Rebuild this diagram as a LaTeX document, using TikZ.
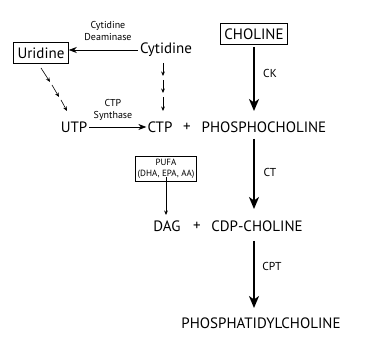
\documentclass[tikz,border=0pt]{standalone}
\usepackage{fontspec}
\setmainfont{PT Sans}
\usetikzlibrary{arrows.meta}
\begin{document}
\begin{tikzpicture}[x=1pt,y=-1pt,
  big/.style={font=\fontsize{15}{17}\selectfont, inner sep=0pt},
  small/.style={font=\fontsize{10}{11.5}\selectfont, align=center, inner sep=0pt},
  lab/.style={font=\fontsize{11.5}{13}\selectfont, inner sep=0pt},
  boxed/.style={draw, line width=0.7pt, inner xsep=4pt, inner ysep=5pt},
  thick arrow/.style={line width=2.2pt, -{Stealth[length=12pt,width=10pt,inset=3.5pt]}},
  thin arrow/.style={line width=0.8pt, -{Stealth[length=8pt,width=6pt,inset=2.5pt]}},
  tiny arrow/.style={line width=0.6pt, -{Stealth[length=4.5pt,width=3.8pt]}}]
\useasboundingbox (0,0) rectangle (376,339);
\node[big,boxed] (uri) at (41,53) {Uridine};
\node[big] (cyt) at (166,50) {Cytidine};
\node[small] (cdl) at (108,31) {Cytidine\\Deaminase};
\node[big,boxed] (cho) at (254,34) {CHOLINE};
\node[big] (utp) at (74,127) {UTP};
\node[big] (ctp) at (160,127) {CTP};
\node[big] (p1) at (187,127) {+};
\node[big] (pch) at (264,127) {PHOSPHOCHOLINE};
\node[small] (csl) at (113,110) {CTP\\Synthase};
\node[small,draw,line width=0.7pt,inner xsep=2pt,inner ysep=3pt,font=\fontsize{9}{11}\selectfont] (pufa) at (166,169) {PUFA\\(DHA, EPA, AA)};
\node[big] (dag) at (167,226) {DAG};
\node[big] (p2) at (197,226) {+};
\node[big] (cdp) at (257,226) {CDP-CHOLINE};
\node[big] (pc) at (261,323) {PHOSPHATIDYLCHOLINE};
\node[lab] (ck) at (270,73) {CK};
\node[lab] (ct) at (270,172) {CT};
\node[lab] (cpt) at (272,266) {CPT};
% main arrows
\coordinate (k0) at (254,47);
\coordinate (k1) at (254,111);
\coordinate (t0) at (254,139);
\coordinate (t1) at (254,209);
\coordinate (p0) at (254,241);
\coordinate (p1e) at (254,308);
\draw[thick arrow] (k0) -- (k1);
\draw[thick arrow] (t0) -- (t1);
\draw[thick arrow] (p0) -- (p1e);
\draw[thin arrow] ([xshift=-2pt]cyt.west) -- (cyt.west -| uri.east);
\draw[thin arrow] ([xshift=2pt]utp.east) -- ([xshift=-1pt]ctp.west);
\coordinate (f1) at (166,215);
\draw[tiny arrow] ([yshift=5pt]pufa.south) -- (f1);
% dashed chains
\coordinate (a0) at (41,68);
\coordinate (a1) at (50,82);
\coordinate (a2) at (52,85);
\coordinate (a3) at (59,97);
\coordinate (a4) at (61,100);
\coordinate (a5) at (67,111);
\draw[tiny arrow] (a0) -- (a1);
\draw[tiny arrow] (a2) -- (a3);
\draw[tiny arrow] (a4) -- (a5);
\coordinate (b0) at (163,63);
\coordinate (b1) at (163,76);
\coordinate (b2) at (163,80);
\coordinate (b3) at (163,93);
\coordinate (b4) at (163,97);
\coordinate (b5) at (163,111);
\draw[tiny arrow] (b0) -- (b1);
\draw[tiny arrow] (b2) -- (b3);
\draw[tiny arrow] (b4) -- (b5);
\end{tikzpicture}
\end{document}
